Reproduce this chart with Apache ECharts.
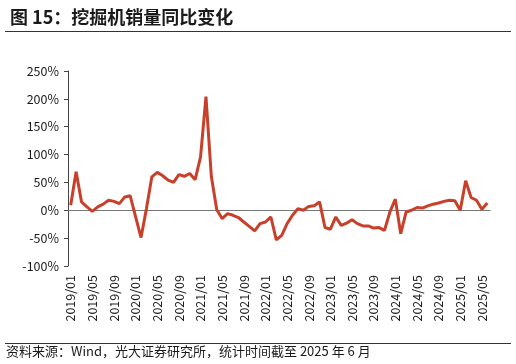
<!DOCTYPE html>
<html><head><meta charset="utf-8">
<script src="https://cdn.jsdelivr.net/npm/echarts@6/dist/echarts.min.js"></script>
<style>html,body{margin:0;padding:0;background:#fff;}#c{width:516px;height:364px;}</style>
</head><body><div id="c"></div>
<script>
var years = [2019, 2020, 2021, 2022, 2023, 2024, 2025];
var months = ['01','02','03','04','05','06','07','08','09','10','11','12'];
var categories = [];
years.forEach(function(y){ months.forEach(function(m){ if (!(y === 2025 && +m > 6)) categories.push(y + '/' + m); }); });
var yoyValues = [
  9, 69, 15, 6, -2, 6, 11, 18, 16, 12, 24, 26,
  -12, -49, 3, 60, 68, 62, 54, 50, 64, 61, 66, 55,
  96, 204, 60, 1, -15, -6, -9, -13, -21, -29, -37, -24,
  -21, -12, -53, -45, -24, -9, 3, 0, 7, 8, 15, -31,
  -34, -12, -27, -23, -17, -24, -28, -28, -32, -31, -36, -3,
  20, -42, -3, 0, 5, 4, 8, 11, 13, 16, 18, 17,
  0, 53, 23, 18, 2, 13
];
var titleText = '图 15：挖掘机销量同比变化';
var sourceText = '资料来源：Wind，光大证券研究所，统计时间截至 2025 年 6 月';
var FONT = '"Noto Sans CJK SC","Noto Sans",sans-serif';

var chart = echarts.init(document.getElementById('c'), null, {renderer: 'canvas'});
chart.setOption({
  animation: false,
  title: {text: titleText, left: 5, top: 3, textStyle: {fontFamily: FONT, fontSize: 18, fontWeight: 'bold', color: '#1a1a1a'}},
  graphic: [
    {type: 'line', shape: {x1: 5, y1: 31.5, x2: 511, y2: 31.5}, style: {stroke: '#333', lineWidth: 1}},
    {type: 'line', shape: {x1: 5, y1: 343.5, x2: 511, y2: 343.5}, style: {stroke: '#333', lineWidth: 1}},
    {type: 'text', left: 6, top: 345, style: {text: sourceText, font: '13px ' + FONT, fill: '#1a1a1a'}}
  ],
  grid: {left: 68, right: 26, top: 71, bottom: 98},
  xAxis: {
    type: 'category', data: categories, boundaryGap: true,
    axisLine: {lineStyle: {color: '#777', width: 1}},
    axisTick: {interval: 3, length: 4, lineStyle: {color: '#555'}},
    axisLabel: {interval: 3, rotate: 90, fontFamily: FONT, fontSize: 12.5, color: '#1a1a1a', margin: 9},
    splitLine: {show: false}
  },
  yAxis: {
    type: 'value', min: -100, max: 250, interval: 50,
    axisLine: {show: true, lineStyle: {color: '#444', width: 1}},
    axisTick: {show: true, length: 4, lineStyle: {color: '#444'}},
    axisLabel: {formatter: '{value}%', fontFamily: FONT, fontSize: 12.5, color: '#1a1a1a', margin: 9},
    splitLine: {show: false}
  },
  series: [{
    type: 'line', data: yoyValues, symbol: 'none', smooth: false,
    lineStyle: {color: '#C8402A', width: 3}
  }]
});
</script></body></html>
